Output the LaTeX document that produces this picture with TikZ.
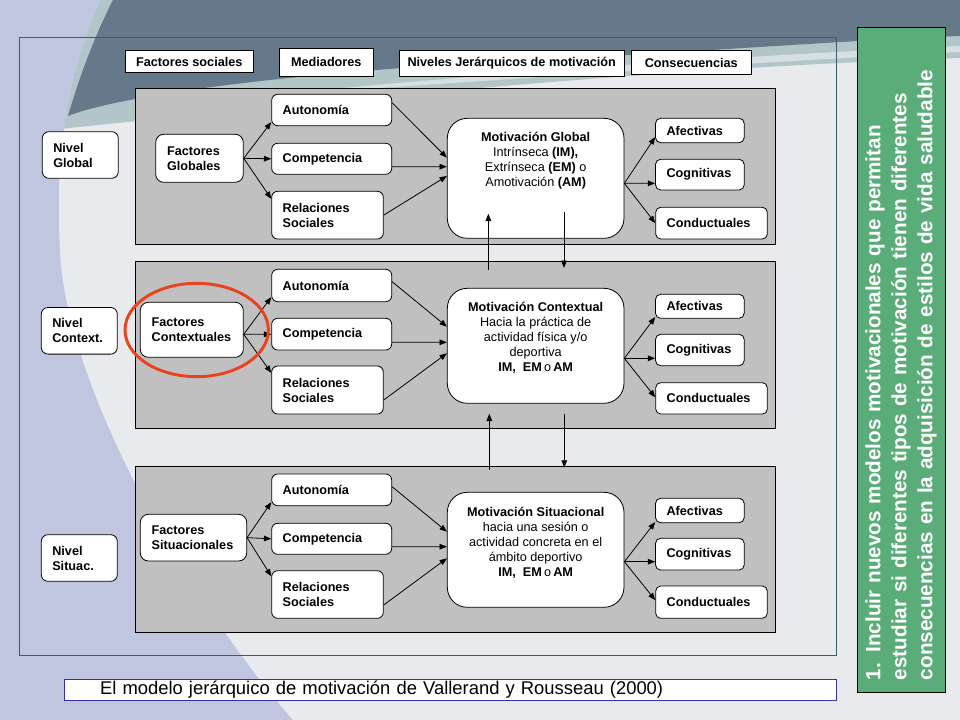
\documentclass[tikz,border=0pt]{standalone}
\usepackage{fontspec}
\setmainfont{Liberation Sans}
\usetikzlibrary{arrows.meta,calc,shapes.geometric}
\definecolor{bglav}{HTML}{C1C6E0}
\definecolor{bglight}{HTML}{E9EAEE}
\definecolor{bgdark}{HTML}{66798A}
\definecolor{bgteal}{HTML}{B2C6C9}
\definecolor{bgstreak}{HTML}{D6E0E3}
\definecolor{framec}{HTML}{3B5B6F}
\definecolor{panelgray}{HTML}{C0C0C0}
\definecolor{hlred}{HTML}{E8431E}
\definecolor{greenbox}{HTML}{5AAD78}
\definecolor{titleblue}{HTML}{3333A0}
\begin{document}
\begin{tikzpicture}[x=0.75pt,y=-0.75pt,
  box/.style={draw=black,line width=0.6pt,fill=white,inner ysep=0pt,
    font=\fontsize{9.5}{11.25}\selectfont\bfseries},
  hdr/.style={box,align=center,inner xsep=0pt},
  panel/.style={draw=black,line width=0.6pt,fill=panelgray,inner sep=0pt,minimum width=479.8pt},
  nivel/.style={box,rounded corners=5pt,align=left,text width=40.5pt,inner xsep=8.25pt,minimum height=35pt},
  fact/.style={box,rounded corners=6pt,align=left,inner xsep=8.5pt},
  med/.style={box,rounded corners=4.5pt,align=left,inner xsep=8.25pt,text width=73.5pt},
  medr/.style={box,rounded corners=4.5pt,align=left,inner xsep=8.25pt,text width=67.2pt},
  cons/.style={box,rounded corners=3.75pt,align=left,inner xsep=8.25pt,text width=49.95pt},
  consl/.style={box,rounded corners=3.75pt,align=left,inner xsep=8.25pt,text width=67.2pt},
  mot/.style={box,rounded corners=15pt,minimum width=132.5pt,inner sep=0pt},
  mtxt/.style={align=center,inner sep=0pt,font=\fontsize{9.5}{11.25}\selectfont},
  arr/.style={line width=0.6pt,-{Triangle[length=5.5pt,width=4.2pt]}}
]
\useasboundingbox (0,0) rectangle (960,720);
% background
\fill[bglav] (0,0) rectangle (960,720);
\fill[bglight] (100,0) .. controls (65,80) and (55,160) .. (60,250) .. controls (65,380) and (180,590) .. (293,720) -- (960,720) -- (960,0) -- cycle;
\begin{scope}
\clip (100,0) .. controls (65,80) and (55,160) .. (60,250) .. controls (65,380) and (180,590) .. (293,720) -- (960,720) -- (960,0) -- cycle;
\fill[bgteal] (0,0) -- (0,135) .. controls (250,110) and (600,70) .. (960,58) -- (960,0) -- cycle;
\fill[bgstreak] (260,96) .. controls (500,72) and (750,55) .. (960,46) -- (960,52) .. controls (750,62) and (500,80) .. (260,96) -- cycle;
\end{scope}
\fill[bgdark] (113,0) -- (960,0) -- (960,36) .. controls (850,40) and (700,52) .. (500,62) .. controls (300,72) and (120,95) .. (68,116) .. controls (80,75) and (95,35) .. (113,0) -- cycle;
\draw[framec,line width=0.75pt] (19.3,37.3) rectangle (836,655.7);

% headers
\node[hdr,minimum width=96pt,minimum height=16.2pt] (hFS) at (189.3,61.5) {Factores sociales};
\node[hdr,minimum width=70.5pt,minimum height=20.5pt] (hMed) at (326.3,62.35) {Mediadores};
\node[hdr,minimum width=168.5pt,minimum height=19pt] (hNiv) at (511.7,63.35) {Niveles Jerárquicos de motivación};
\node[hdr,minimum width=90pt,minimum height=18pt] (hCon) at (691.3,62.7) {Consecuencias};

% panels
\node[panel,minimum height=117pt] (P1) at (455.15,166.3) {};
\node[panel,minimum height=125pt] (P2) at (455.15,345) {};
\node[panel,minimum height=124.7pt] (P3) at (455.15,549.15) {};

% nivel boxes
\node[nivel] (nG) at (80.3,155) {Nivel\\Global};
\node[nivel] (nC) at (79.3,330.8) {Nivel\\Context.};
\node[nivel] (nS) at (79.3,558) {Nivel\\Situac.};

% factores
\node[fact,text width=48.7pt,minimum height=36pt] (fG) at (199.5,158.3) {Factores\\Globales};
\node[fact,text width=60.25pt,minimum height=41.25pt] (fC) at (191.8,329.8) {Factores\\Contextuales};
\node[fact,text width=62.8pt,minimum height=35pt] (fS) at (193.5,537.65) {Factores\\Situacionales};

% mediators
\node[med,minimum height=23.5pt] (aG) at (331.7,110) {Autonomía};
\node[med,minimum height=23.25pt] (cG) at (331.7,158.8) {Competencia};
\node[medr,minimum height=35.8pt] (rG) at (327.5,215.15) {Relaciones\\Sociales};
\node[med,minimum height=24.3pt] (aC) at (331.7,285.5) {Autonomía};
\node[med,minimum height=23.8pt] (cC) at (331.7,334.15) {Competencia};
\node[medr,minimum height=36pt] (rC) at (327.5,390) {Relaciones\\Sociales};
\node[med,minimum height=23.8pt] (aS) at (331.7,489.85) {Autonomía};
\node[med,minimum height=23.25pt] (cS) at (331.7,538.8) {Competencia};
\node[medr,minimum height=35.7pt] (rS) at (327.5,594.5) {Relaciones\\Sociales};

% motivation boxes
\node[mot,minimum height=90pt] (mG) at (535.65,178.3) {};
\node[mot,minimum height=86.25pt] (mC) at (535.65,345.8) {};
\node[mot,minimum height=86.25pt] (mS) at (535.65,549.8) {};
\node[mtxt,anchor=north] (mGt) at ($(mG.north)+(0,14.5)$) {\textbf{Motivación Global}\\Intrínseca \textbf{(IM),}\\Extrínseca \textbf{(EM)} o\\Amotivación \textbf{(AM)}};
\node[mtxt,anchor=north] (mCt) at ($(mC.north)+(0,14.5)$) {\textbf{Motivación Contextual}\\Hacia la práctica de\\actividad física y/o\\deportiva\\\textbf{IM,~~EM}\,o\,\textbf{AM}};
\node[mtxt,anchor=north] (mSt) at ($(mS.north)+(0,14.9)$) {\textbf{Motivación Situacional}\\hacia una sesión o\\actividad concreta en el\\ámbito deportivo\\\textbf{IM,~~EM}\,o\,\textbf{AM}};

% consequences
\node[cons,minimum height=18.3pt] (af1) at (699.85,130.5) {Afectivas};
\node[cons,minimum height=23pt] (co1) at (699.85,174.65) {Cognitivas};
\node[consl,minimum height=23.8pt] (cd1) at (711.5,223.15) {Conductuales};
\node[cons,minimum height=18pt] (af2) at (699.85,306.3) {Afectivas};
\node[cons,minimum height=23.5pt] (co2) at (699.85,350) {Cognitivas};
\node[consl,minimum height=23.5pt] (cd2) at (711.5,398.35) {Conductuales};
\node[cons,minimum height=18.3pt] (af3) at (699.85,510.5) {Afectivas};
\node[cons,minimum height=23.8pt] (co3) at (699.85,554.15) {Cognitivas};
\node[consl,minimum height=24.2pt] (cd3) at (711.5,602.15) {Conductuales};

% arrows panel 1
\draw[arr] (fG.east) -- ($(aG.south west)+(0,-4)$);
\draw[arr] (fG.east) -- (cG.west);
\draw[arr] (fG.east) -- ($(rG.north west)+(0,8)$);
\draw[arr] ($(aG.east)+(0,-7.3)$) -- ($(mG.west)+(0,-20.6)$);
\draw[arr] ($(cG.east)+(0,7.9)$) -- ($(mG.west)+(0,-11.6)$);
\draw[arr] (rG.east) -- ($(mG.west)+(0,-2.3)$);
\draw[arr] ($(mG.east)+(0,5)$) -- ($(af1.south west)+(0,-6)$);
\draw[arr] ($(mG.east)+(0,5)$) -- ($(co1.west)+(0,8.65)$);
\draw[arr] ($(mG.east)+(0,5)$) -- (cd1.west);
% arrows panel 2
\draw[arr] ($(fC.east)+(0,4.5)$) -- ($(aC.south west)+(0,-5)$);
\draw[arr] ($(fC.east)+(0,4.5)$) -- ($(cC.west)+(0,0.15)$);
\draw[arr] ($(fC.east)+(0,4.5)$) -- ($(rC.north west)+(0,7.3)$);
\draw[arr] ($(aC.east)+(0,-3.8)$) -- ($(mC.west)+(0,-19.1)$);
\draw[arr] ($(cC.east)+(0,8.15)$) -- ($(mC.west)+(0,-3.5)$);
\draw[arr] ($(rC.east)+(0,10)$) -- ($(mC.west)+(0,7.5)$);
\draw[arr] ($(mC.east)+(0,12.5)$) -- ($(af2.south west)+(0,-1.6)$);
\draw[arr] ($(mC.east)+(0,12.5)$) -- ($(co2.west)+(0,8.3)$);
\draw[arr] ($(mC.east)+(0,12.5)$) -- ($(cd2.west)+(0,-1)$);
% arrows panel 3
\draw[arr] (fS.east) -- ($(aS.south west)+(0,-4)$);
\draw[arr] (fS.east) -- (cS.west);
\draw[arr] (fS.east) -- ($(rS.north west)+(0,6)$);
\draw[arr] ($(aS.east)+(0,-3.15)$) -- ($(mS.west)+(0,-18.1)$);
\draw[arr] ($(cS.east)+(0,7.9)$) -- ($(mS.west)+(0,-3.1)$);
\draw[arr] ($(rS.east)+(0,10.5)$) -- ($(mS.west)+(0,8.5)$);
\draw[arr] ($(mS.east)+(0,11.9)$) -- ($(af3.south west)+(0,-1)$);
\draw[arr] ($(mS.east)+(0,11.9)$) -- ($(co3.west)+(0,7.55)$);
\draw[arr] ($(mS.east)+(0,11.9)$) -- ($(cd3.west)+(0,-2)$);
% vertical arrows
\draw[arr] ($(mC.north)+(-47.3,-18.3)$) -- ($(mG.south)+(-47.3,-25)$);
\draw[arr] ($(mG.south)+(28.35,-26.6)$) -- ($(mC.north)+(28.35,-20)$);
\draw[arr] ($(mS.north)+(-46.35,-22.3)$) -- ($(mC.south)+(-46.35,10)$);
\draw[arr] ($(mC.south)+(28.65,10.7)$) -- ($(mS.north)+(28.65,-24.3)$);

% highlight
\node[draw=hlred,line width=2.2pt,ellipse,minimum width=107.5pt,minimum height=70pt,inner sep=0pt] (hl) at (196.7,330) {};

% title
\node[draw=titleblue,line width=0.75pt,fill=white,minimum height=16pt,text width=525.2pt,inner xsep=26.8pt,inner ysep=0pt,align=left,font=\fontsize{13.8}{16}\selectfont] (title) at (450.15,690) {El modelo jerárquico de motivación de Vallerand y Rousseau (2000)};

% green box
\node[rotate=90,draw=black,line width=0.6pt,fill=greenbox,minimum width=498.75pt,minimum height=66pt,text width=480.75pt,inner xsep=9pt,inner ysep=0pt,align=left,text=white,font=\fontsize{15.5}{19.5}\selectfont\bfseries] (gbox) at (901,359.5) {1. Incluir nuevos modelos motivacionales que permitan\\estudiar si diferentes tipos de motivación tienen diferentes\\consecuencias en la adquisición de estilos de vida saludable};
\end{tikzpicture}
\end{document}
